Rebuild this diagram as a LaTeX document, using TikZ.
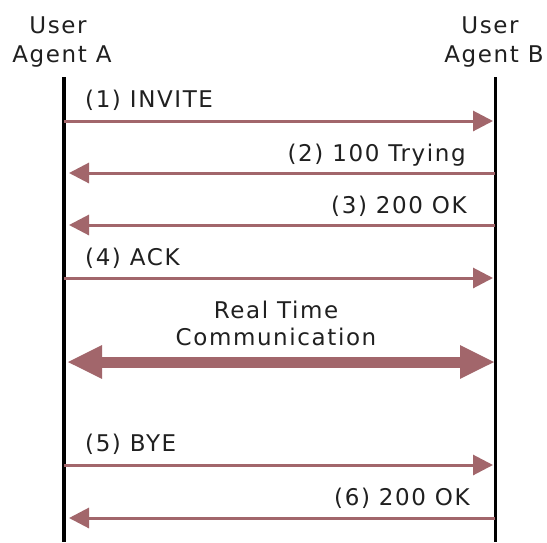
\documentclass[tikz,border=0pt]{standalone}
\usepackage{fontspec}
\setmainfont{DejaVu Sans}[LetterSpace=7]
\usetikzlibrary{arrows.meta}
\definecolor{arr}{HTML}{A2666B}
\definecolor{txt}{HTML}{202020}
\begin{document}
\begin{tikzpicture}[x=1pt,y=-1pt,
  life/.style={line width=3.5pt,black},
  msg/.style={line width=3pt,arr,-{Triangle[length=20pt,width=20pt]}},
  big/.style={line width=11pt,arr,{Triangle[length=35pt,width=31pt]}-{Triangle[length=35pt,width=31pt]}},
  lbl/.style={font=\fontsize{23}{27}\selectfont,inner sep=0pt,text=txt}]
\useasboundingbox (0,0) rectangle (547,542);
\fill[white] (0,0) rectangle (547,542);
\node[lbl,anchor=base] (hau) at (58,33) {User};
\node[lbl,anchor=base] (haa) at (62,62) {Agent A};
\node[lbl,anchor=base] (hbu) at (490,33) {User};
\node[lbl,anchor=base] (hba) at (494,62) {Agent B};
\coordinate (a0) at (64,77); \coordinate (a1) at (64,542);
\coordinate (b0) at (495.5,77); \coordinate (b1) at (495.5,542);
\draw[life] (a0) -- (a1);
\draw[life] (b0) -- (b1);
\coordinate (a1m) at (64,121); \coordinate (b1m) at (493,121);
\coordinate (a2m) at (69,173); \coordinate (b2m) at (495,173);
\coordinate (a3m) at (69,225); \coordinate (b3m) at (495,225);
\coordinate (a4m) at (64,278); \coordinate (b4m) at (493,278);
\coordinate (arm) at (67,362); \coordinate (brm) at (495,362);
\coordinate (a5m) at (64,465); \coordinate (b5m) at (493,465);
\coordinate (a6m) at (69,518); \coordinate (b6m) at (495,518);
\draw[msg] (a1m) -- (b1m);
\draw[msg] (b2m) -- (a2m);
\draw[msg] (b3m) -- (a3m);
\draw[msg] (a4m) -- (b4m);
\draw[big] (arm) -- (brm);
\draw[msg] (a5m) -- (b5m);
\draw[msg] (b6m) -- (a6m);
\node[lbl,anchor=base west] (l1) at (85,107) {(1) INVITE};
\node[lbl,anchor=base east] (l2) at (466,161) {(2) 100 Trying};
\node[lbl,anchor=base east] (l3) at (467,213) {(3) 200 OK};
\node[lbl,anchor=base west] (l4) at (85,265) {(4) ACK};
\node[lbl,anchor=base] (rt1) at (276,318) {Real Time};
\node[lbl,anchor=base] (rt2) at (276,345) {Communication};
\node[lbl,anchor=base west] (l5) at (85,451) {(5) BYE};
\node[lbl,anchor=base east] (l6) at (470,505) {(6) 200 OK};
\end{tikzpicture}
\end{document}
